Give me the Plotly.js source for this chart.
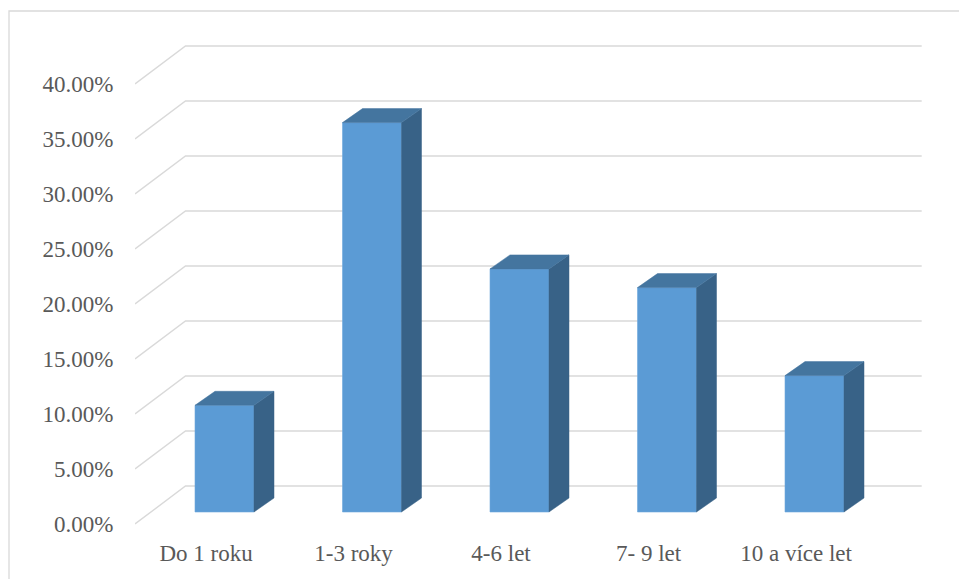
<!DOCTYPE html>
<html>
<head>
<meta charset="utf-8">
<script src="https://cdn.plot.ly/plotly-3.0.1.min.js"></script>
<style>
  html, body { margin: 0; padding: 0; background: #ffffff; }
  #chart { width: 959px; height: 579px; }
</style>
</head>
<body>
<div id="chart"></div>
<script>
// ---- data ----
const categories = ["Do 1 roku", "1-3 roky", "4-6 let", "7- 9 let", "10 a více let"];
const values = [9.7, 35.4, 22.1, 20.4, 12.4];           // percent
const tickValues = [0, 5, 10, 15, 20, 25, 30, 35, 40];
const tickLabels = ["0.00%", "5.00%", "10.00%", "15.00%", "20.00%", "25.00%", "30.00%", "35.00%", "40.00%"];

// ---- style / geometry constants (3D look) ----
const PX_PER_CAT = 147.5;   // px per category unit
const PX_PER_PCT = 11;      // px per percent
const X_RANGE = [-0.60678, 4.72881];
const Y_RANGE = [-1.63636, 42.9091];
const BAR_HALF = 29.5 / PX_PER_CAT;
const BAR_DX = 20 / PX_PER_CAT, BAR_DY = 14 / PX_PER_PCT;
const FRONT_DY = -12 / PX_PER_PCT;     // front floor plane relative to bar front
const BACK_DY = 26 / PX_PER_PCT;       // back wall relative to bar front
const WALL_DX = 50.5 / PX_PER_CAT;
const GRID_RIGHT = X_RANGE[1] - 0.3 / PX_PER_CAT;
const FONT = { family: "Liberation Serif", size: 23, color: "#595959" };

const idx = categories.map((_, i) => i);

// gridlines (perspective: diagonal from front floor to back wall, then across wall)
const gx = [], gy = [];
tickValues.forEach(t => {
  gx.push(X_RANGE[0], X_RANGE[0] + WALL_DX, GRID_RIGHT, null);
  gy.push(t + FRONT_DY, t + BACK_DY, t + BACK_DY, null);
});

// side & top faces
const sx = [], sy = [], tx = [], ty = [];
idx.forEach(i => {
  const v = values[i];
  const r = i + BAR_HALF, l = i - BAR_HALF;
  sx.push(r, r + BAR_DX, r + BAR_DX, r, r, null);
  sy.push(0, BAR_DY, v + BAR_DY, v, 0, null);
  tx.push(l, r, r + BAR_DX, l + BAR_DX, l, null);
  ty.push(v, v, v + BAR_DY, v + BAR_DY, v, null);
});

const traces = [
  { type: "scatter", mode: "lines", x: gx, y: gy, xaxis: "x", yaxis: "y",
    line: { color: "#d9d9d9", width: 1.4 }, hoverinfo: "skip", showlegend: false },
  { type: "bar", x: idx, y: values, width: 2 * BAR_HALF, xaxis: "x2", yaxis: "y2",
    marker: { color: "#5b9bd5", line: { color: "#6fa8dc", width: 0.6 } },
    hovertemplate: "%{y:.2f}%<extra></extra>", showlegend: false },
  { type: "scatter", mode: "lines", x: sx, y: sy, xaxis: "x2", yaxis: "y2",
    fill: "toself", fillcolor: "#386287", line: { color: "#386287", width: 0.5 },
    hoverinfo: "skip", showlegend: false },
  { type: "scatter", mode: "lines", x: tx, y: ty, xaxis: "x2", yaxis: "y2",
    fill: "toself", fillcolor: "#44759f", line: { color: "#44759f", width: 0.5 },
    hoverinfo: "skip", showlegend: false }
];

const layout = {
  width: 959, height: 579,
  margin: { l: 135, r: 37, t: 40, b: 49 },
  paper_bgcolor: "#ffffff", plot_bgcolor: "rgba(0,0,0,0)",
  font: FONT,
  showlegend: false,
  xaxis: {
    range: X_RANGE, fixedrange: true, showgrid: false, zeroline: false, showline: false,
    tickvals: idx.map(i => i - 0.125), ticktext: categories,
    ticks: "outside", ticklen: 2, tickcolor: "rgba(0,0,0,0)", tickfont: FONT
  },
  yaxis: {
    range: Y_RANGE, fixedrange: true, showgrid: false, zeroline: false, showline: false,
    tickvals: tickValues.map(t => t + FRONT_DY), ticktext: tickLabels,
    ticks: "outside", ticklen: 16, tickcolor: "rgba(0,0,0,0)", tickfont: FONT
  },
  xaxis2: { range: X_RANGE, overlaying: "x", visible: false, fixedrange: true },
  yaxis2: { range: Y_RANGE, overlaying: "y", visible: false, fixedrange: true },
  shapes: [{
    type: "rect", xref: "paper", yref: "paper",
    x0: (9 - 135) / 787, x1: (975 - 135) / 787,
    y0: (530 - 600) / 490, y1: (530 - 11) / 490,
    line: { color: "#d9d9d9", width: 1.3 }, fillcolor: "rgba(0,0,0,0)", layer: "below"
  }]
};

Plotly.newPlot("chart", traces, layout, { displayModeBar: false, staticPlot: true });
</script>
</body>
</html>
